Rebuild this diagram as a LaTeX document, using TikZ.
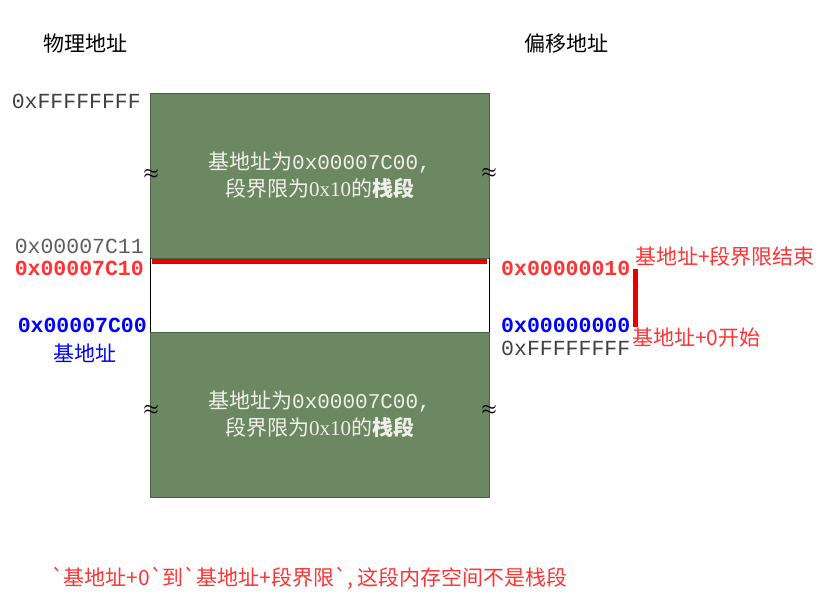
\documentclass[tikz,border=0pt]{standalone}
\usepackage{fontspec}
\setmainfont{Liberation Serif}
\newfontfamily\cjk{Noto Sans CJK SC}
\newfontfamily\mono{Liberation Mono}
\definecolor{boxgreen}{RGB}{108,136,99}
\definecolor{edgegreen}{RGB}{74,96,66}
\definecolor{labelred}{RGB}{255,51,51}
\definecolor{barred}{RGB}{235,0,0}
\definecolor{addrgray}{RGB}{64,64,64}
\definecolor{addrblue}{RGB}{0,0,255}
\begin{document}
\begin{tikzpicture}[x=1pt, y=-1pt, every node/.style={inner sep=0pt, font=\cjk\fontsize{21}{27}\selectfont},
                  seg/.style={draw=edgegreen, fill=boxgreen, minimum width=339pt, minimum height=165pt,
                  text={rgb,255:red,240;green,240;blue,232}, align=center},
                  addr/.style={font=\mono\fontsize{21.5}{25}\selectfont},
                  addrb/.style={font=\mono\bfseries\fontsize{21.5}{25}\selectfont},
                  wave/.style={font=\fontsize{17}{17}\selectfont\boldmath},
                  redbar/.style={draw=barred, line width=5pt}]
              \useasboundingbox (0,0) rectangle (829,605);
              \node (phys) at (85,44) {物理地址};
              \node (offs) at (566,44) {偏移地址};
              \node[seg] (upper) at (319.5,175.5) {基地址为{\mono 0x00007C00,}\\段界限为{\rmfamily 0x10}的{\bfseries 栈段}};
              \node[seg] (lower) at (319.5,414.5) {基地址为{\mono 0x00007C00,}\\段界限为{\rmfamily 0x10}的{\bfseries 栈段}};
              \node[wave] (w1) at (151,174) {$\approx$};
              \node[wave] (w2) at (489,173) {$\approx$};
              \node[wave] (w3) at (151,410) {$\approx$};
              \node[wave] (w4) at (489,410) {$\approx$};
              \draw (upper.south west) -- (lower.north west);
              \draw (upper.south east) -- (lower.north east);
              \draw[redbar] ([xshift=2pt,yshift=-3.5pt]upper.south west) -- ([xshift=-2pt,yshift=-3.5pt]upper.south east);
              \node[addr, text=addrgray, anchor=east] (ltop) at (141,101) {0xFFFFFFFF};
              \node[addr, text=addrgray!85, anchor=east] (lc11) at (144,246) {0x00007C11};
              \node[addrb, text=labelred, anchor=east] (lc10) at (144,268) {0x00007C10};
              \node[addrb, text=addrblue, anchor=east] (lc00) at (147,325) {0x00007C00};
              \node[text=addrblue] (lbase) at (85,353) {基地址};
              \node[addrb, text=labelred, anchor=west] (r10) at (501,268) {0x00000010};
              \node[addrb, text=addrblue, anchor=west] (r00) at (501,325) {0x00000000};
              \node[addr, text=addrgray, anchor=west] (rtop) at (501,348) {0xFFFFFFFF};
              \coordinate (bartop) at (635,269);
              \coordinate (barbot) at (635,327);
              \draw[redbar] (bartop) -- (barbot);
              \node[text=labelred, anchor=west] (endtxt) at (635,257) {基地址+段界限结束};
              \node[text=labelred, anchor=west] (starttxt) at (632,338) {基地址+0开始};
              \node[text=labelred, anchor=west] (note) at (51,578) {`基地址+0`到`基地址+段界限`,\ 这段内存空间不是栈段};
          \end{tikzpicture}
\end{document}
